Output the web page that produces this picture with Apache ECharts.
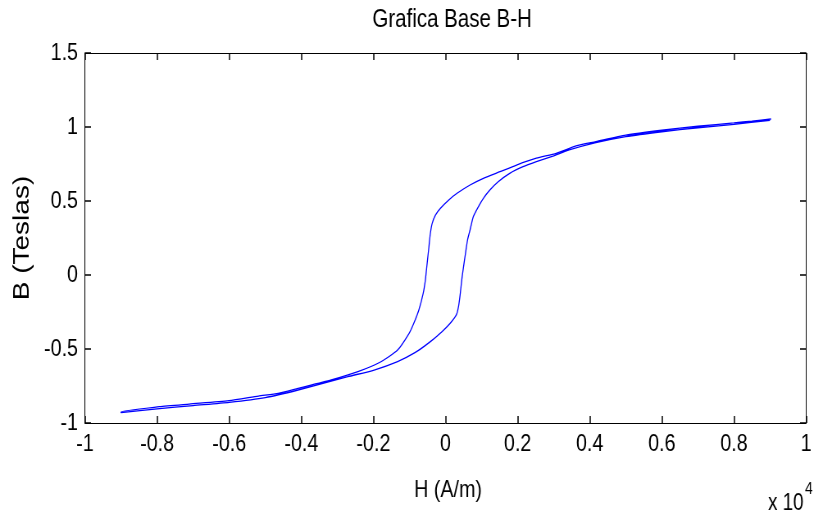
<!DOCTYPE html>
<html>
<head>
<meta charset="utf-8">
<script src="https://cdn.jsdelivr.net/npm/echarts@6/dist/echarts.min.js"></script>
<style>
html,body{margin:0;padding:0;background:#fff;overflow:hidden;}
#wrap{width:814px;height:520px;overflow:hidden;}
#chart{width:993px;height:520px;transform:scaleX(0.8197);transform-origin:0 0;}
</style>
</head>
<body>
<div id="wrap"><div id="chart"></div></div>
<script>
// H values in units of 10^4 A/m, B in Teslas
var descH = [0.903, 0.85, 0.80, 0.70, 0.60, 0.50, 0.417, 0.362, 0.307, 0.252, 0.197, 0.151, 0.105, 0.068, 0.032, 0.009, -0.014, -0.028, -0.037, -0.042, -0.046, -0.051, -0.056, -0.062, -0.074, -0.088, -0.101, -0.133, -0.179, -0.243, -0.317, -0.409, -0.464, -0.519, -0.601, -0.711, -0.794, -0.90];
var descB = [1.054, 1.040, 1.028, 1.005, 0.978, 0.945, 0.901, 0.872, 0.822, 0.789, 0.743, 0.698, 0.653, 0.608, 0.552, 0.507, 0.451, 0.405, 0.349, 0.282, 0.191, 0.079, -0.034, -0.124, -0.236, -0.326, -0.394, -0.507, -0.586, -0.653, -0.709, -0.766, -0.800, -0.818, -0.849, -0.872, -0.890, -0.925];
var ascH = [-0.90, -0.80, -0.70, -0.60, -0.50, -0.409, -0.271, -0.198, -0.133, -0.085, -0.042, -0.010, 0.013, 0.030, 0.036, 0.041, 0.045, 0.050, 0.054, 0.061, 0.068, 0.077, 0.091, 0.105, 0.123, 0.146, 0.178, 0.215, 0.252, 0.298, 0.343, 0.417, 0.50, 0.60, 0.70, 0.80, 0.90];
var ascB = [-0.930, -0.905, -0.882, -0.860, -0.828, -0.777, -0.687, -0.642, -0.585, -0.525, -0.450, -0.383, -0.326, -0.270, -0.214, -0.124, -0.034, 0.056, 0.124, 0.236, 0.304, 0.394, 0.461, 0.518, 0.574, 0.630, 0.687, 0.732, 0.766, 0.804, 0.845, 0.894, 0.935, 0.968, 0.995, 1.018, 1.045];

var titleText = 'Grafica Base B-H';
var xName = 'H (A/m)';
var yName = 'B (Teslas)';
var xScaleMain = 'x 10';
var xScaleExp = '4';
var xMin = -1, xMax = 1, xStep = 0.2;
var yMin = -1, yMax = 1.5, yStep = 0.5;

var loop = [];
for (var i = 0; i < descH.length; i++) loop.push([descH[i], descB[i]]);
for (var j = 0; j < ascH.length; j++) loop.push([ascH[j], ascB[j]]);

var S = 0.8197; // horizontal squeeze applied by CSS to emulate a narrow font
function X(px) { return px / S; }
var font = "'Liberation Sans', Arial, sans-serif";

var chart = echarts.init(document.getElementById('chart'), null, {renderer: 'canvas', width: 993, height: 520});
function tickAxis(pos, isX, showLabels) {
  return {
    type: 'value',
    position: pos,
    min: isX ? xMin : yMin,
    max: isX ? xMax : yMax,
    interval: isX ? xStep : yStep,
    axisLine: {show: true, onZero: false, lineStyle: {color: '#000', width: 1}},
    axisTick: {show: true, inside: true, length: isX ? 7 : X(6), lineStyle: {color: '#000', width: 1.5}},
    splitLine: {show: false},
    axisLabel: {show: showLabels, color: '#000', fontFamily: font, fontSize: 24, margin: isX ? 9 : X(7)}
  };
}

chart.setOption({
  animation: false,
  backgroundColor: '#fff',
  title: {
    text: titleText,
    left: X(448), top: 3, textAlign: 'center',
    textStyle: {fontFamily: font, fontSize: 25, fontWeight: 'normal', color: '#000'}
  },
  grid: {left: X(85), right: X(2), top: 53, bottom: 97, show: false},
  xAxis: [tickAxis('bottom', true, true), tickAxis('top', true, false)],
  yAxis: [tickAxis('left', false, true), tickAxis('right', false, false)],
  graphic: [
    {type: 'text', x: X(448), y: 490, silent: true,
     style: {text: xName, fill: '#000', font: "24px " + font, textAlign: 'center', textVerticalAlign: 'middle'}},
    {type: 'text', x: X(768), y: 504, silent: true,
     style: {text: xScaleMain, fill: '#000', font: "23px " + font, textAlign: 'left', textVerticalAlign: 'middle'}},
    {type: 'text', x: X(805), y: 489, silent: true,
     style: {text: xScaleExp, fill: '#000', font: "17px " + font, textAlign: 'left', textVerticalAlign: 'middle'}},
    {type: 'text', rotation: Math.PI / 2, x: X(22), y: 238, silent: true,
     style: {text: yName, fill: '#000', font: "28px " + font, textAlign: 'center', textVerticalAlign: 'middle'}}
  ],
  series: [{
    type: 'line',
    data: loop,
    xAxisIndex: 0, yAxisIndex: 0,
    showSymbol: false,
    smooth: 0.2,
    lineStyle: {color: '#0000ff', width: 1.3},
    silent: true
  }]
});
</script>
</body>
</html>
